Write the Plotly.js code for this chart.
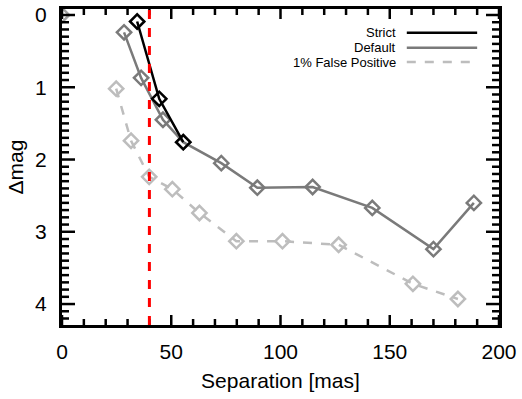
<!DOCTYPE html>
<html><head><meta charset="utf-8">
<script src="https://cdn.plot.ly/plotly-3.0.1.min.js"></script>
<style>body{margin:0;padding:0;background:#fff}#c{width:522px;height:399px}</style>
</head><body><div id="c"></div>
<script>
const strictSep = [34.4, 44.5, 55.5];
const strictMag = [0.09, 1.16, 1.76];
const defaultSep = [28.4, 36.2, 46.2, 55.5, 72.9, 89.4, 114.7, 142.0, 170.0, 188.5];
const defaultMag = [0.24, 0.87, 1.45, 1.76, 2.05, 2.39, 2.38, 2.67, 3.24, 2.60];
const fpSep = [24.8, 31.6, 39.9, 50.5, 62.9, 79.8, 100.9, 126.6, 160.6, 181.2];
const fpMag = [1.02, 1.74, 2.24, 2.41, 2.74, 3.13, 3.13, 3.18, 3.72, 3.93];
const primarySep = [0];
const primaryMag = [0];
const cutoffSep = 40;
const seriesNames = ['Strict', 'Default', '1% False Positive'];

const FONT = 'Liberation Sans, Arial, sans-serif';
const cols = ['#000000', '#7a7a7a', '#bdbdbd'];
const XR = [0, 200], YR = [4.29, -0.083];
const W = 522, H = 399, M = {l: 62, r: 23, t: 9, b: 74};
const plotW = W - M.l - M.r, plotH = H - M.t - M.b;
const pxX = (XR[1] - XR[0]) / plotW;   // x units per pixel
const pxY = (YR[0] - YR[1]) / plotH;   // y units per pixel

const mk = (x, y, c, dash, name) => ({
  x, y, name, type: 'scatter', mode: 'lines+markers', showlegend: false,
  line: {color: c, width: 2.5, dash: dash},
  marker: {symbol: 'diamond-open', size: 11, color: c, line: {width: 2.5, color: c}}
});

// inward-pointing axis tick marks (axis decoration) built as one line trace
const tx = [], ty = [];
for (let v = 0; v <= 200; v += 10) {
  const len = (v % 50 === 0 ? 10 : 6) * pxY;
  tx.push(v, v, null, v, v, null);
  ty.push(YR[0], YR[0] - len, null, YR[1], YR[1] + len, null);
}
for (let k = 0; k <= 42; k++) {
  const v = k / 10;
  const len = (k % 10 === 0 ? 13 : 7) * pxX;
  tx.push(XR[0], XR[0] + len, null, XR[1], XR[1] - len, null);
  ty.push(v, v, null, v, v, null);
}

const data = [
  mk(fpSep, fpMag, cols[2], 'dash', seriesNames[2]),
  mk(defaultSep, defaultMag, cols[1], 'solid', seriesNames[1]),
  mk(strictSep, strictMag, cols[0], 'solid', seriesNames[0]),
  {x: primarySep, y: primaryMag, type: 'scatter', mode: 'markers', showlegend: false,
   marker: {symbol: 'diamond-open', size: 11, color: '#a0a0a0', line: {width: 2.5, color: '#a0a0a0'}}},
  {x: tx, y: ty, type: 'scatter', mode: 'lines', showlegend: false, hoverinfo: 'skip',
   connectgaps: false, cliponaxis: false, line: {color: '#000', width: 2.5}}
];

const shapes = [{type: 'line', xref: 'x', yref: 'paper', x0: cutoffSep, x1: cutoffSep, y0: 0, y1: 1,
  line: {color: '#ff0000', width: 3, dash: 'dash'}}];

const annotations = [];
const legY = [0.925, 0.877, 0.832];
seriesNames.forEach((n, i) => {
  annotations.push({xref: 'paper', yref: 'paper', x: 0.769, y: legY[i], xanchor: 'right', yanchor: 'middle',
    text: n, showarrow: false, font: {family: FONT, size: 13, color: '#000'}});
  shapes.push({type: 'line', xref: 'paper', yref: 'paper', x0: 0.789, x1: 0.95, y0: legY[i], y1: legY[i],
    line: {color: cols[i], width: 2.5, dash: i === 2 ? 'dash' : 'solid'}});
});

const base = {
  showgrid: false, zeroline: false, showline: true, linecolor: '#000', linewidth: 3,
  mirror: true, ticks: '', tickmode: 'linear',
  tickfont: {family: FONT, size: 21, color: '#000'}
};

const layout = {
  width: W, height: H,
  margin: M,
  paper_bgcolor: '#fff', plot_bgcolor: '#fff',
  showlegend: false,
  xaxis: Object.assign({}, base, {
    range: XR, tick0: 0, dtick: 50, ticklabelstandoff: 6,
    title: {text: 'Separation [mas]', font: {family: FONT, size: 21, color: '#000'}, standoff: 12}
  }),
  yaxis: Object.assign({}, base, {
    range: YR, tick0: 0, dtick: 1, ticklabelstandoff: 8,
    title: {text: 'Δmag', font: {family: FONT, size: 21, color: '#000'}, standoff: 6}
  }),
  shapes, annotations
};

Plotly.newPlot('c', data, layout, {staticPlot: true, displayModeBar: false});
</script></body></html>
